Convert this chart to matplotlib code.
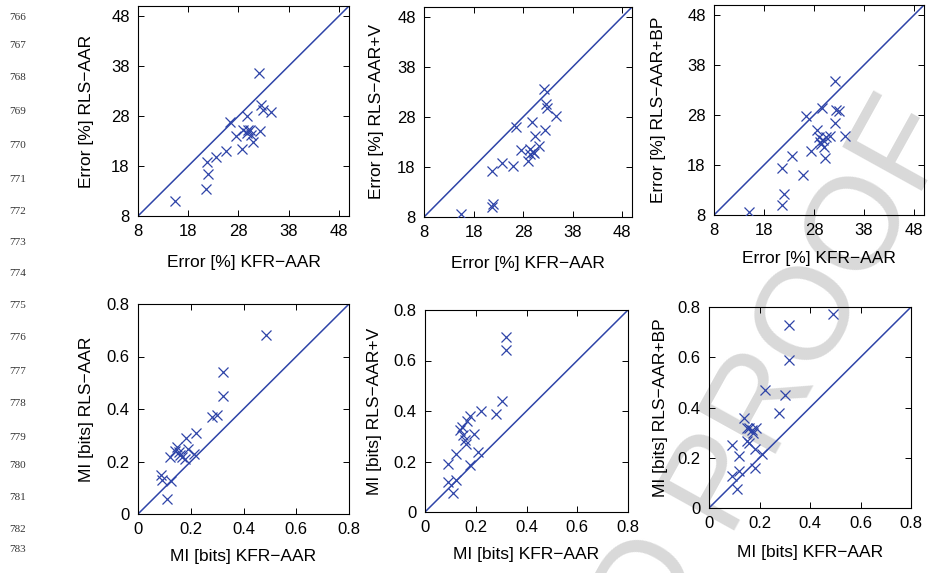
import matplotlib
matplotlib.use("Agg")
import matplotlib.pyplot as plt

plt.rcParams['font.family'] = ['Liberation Sans', 'DejaVu Sans']

# ---------------- data ----------------
# Error panels (KFR-AAR on x)
err1_x = [15.3, 21.6, 22.0, 21.8, 23.5, 25.6, 26.4, 27.5, 28.7, 28.9, 29.6, 29.7, 29.9, 30.3, 30.4, 30.9, 32.3, 32.1, 32.4, 32.9, 34.4]
err1_y = [10.9, 13.3, 16.4, 18.7, 19.7, 20.9, 26.7, 24.0, 21.3, 25.1, 27.9, 24.5, 25.1, 25.1, 24.2, 22.7, 24.9, 36.5, 30.2, 29.2, 28.7]

err2_x = [15.4, 21.7, 22.0, 21.7, 23.7, 25.9, 26.6, 27.6, 28.9, 29.4, 29.5, 29.9, 30.1, 30.3, 30.4, 31.2, 32.4, 32.3, 32.6, 32.9, 34.6]
err2_y = [8.5, 10.0, 10.5, 17.1, 18.7, 18.1, 26.0, 21.4, 19.1, 21.6, 20.6, 27.0, 21.0, 20.8, 24.2, 22.2, 25.3, 33.6, 30.5, 29.8, 28.2]

err3_x = [15.0, 21.5, 21.9, 21.5, 23.5, 25.7, 26.3, 27.4, 28.5, 28.9, 29.1, 29.4, 29.5, 29.7, 30.0, 30.2, 30.3, 31.1, 32.2, 32.2, 32.3, 32.9, 34.2]
err3_y = [8.6, 10.0, 12.2, 17.5, 19.9, 16.1, 27.8, 20.9, 25.1, 23.7, 22.7, 22.2, 29.5, 23.0, 21.7, 19.5, 23.7, 23.8, 34.9, 26.5, 29.0, 28.9, 23.9]

# MI panels (KFR-AAR on x)
mi1_x = [0.487, 0.323, 0.323, 0.300, 0.282, 0.219, 0.181, 0.211, 0.190, 0.146, 0.139, 0.156, 0.123, 0.165, 0.177, 0.158, 0.089, 0.092, 0.124, 0.111]
mi1_y = [0.681, 0.541, 0.450, 0.378, 0.369, 0.310, 0.289, 0.228, 0.248, 0.257, 0.240, 0.238, 0.219, 0.219, 0.210, 0.225, 0.149, 0.130, 0.126, 0.057]

mi2_x = [0.321, 0.321, 0.302, 0.279, 0.219, 0.177, 0.167, 0.144, 0.138, 0.148, 0.157, 0.161, 0.193, 0.210, 0.177, 0.122, 0.092, 0.092, 0.122, 0.109]
mi2_y = [0.692, 0.641, 0.440, 0.390, 0.399, 0.380, 0.361, 0.337, 0.324, 0.304, 0.287, 0.271, 0.308, 0.238, 0.188, 0.228, 0.189, 0.119, 0.126, 0.075]

mi3_x = [0.490, 0.318, 0.318, 0.301, 0.279, 0.222, 0.139, 0.152, 0.160, 0.169, 0.186, 0.173, 0.149, 0.160, 0.182, 0.209, 0.182, 0.090, 0.120, 0.120, 0.090, 0.110]
mi3_y = [0.771, 0.730, 0.589, 0.450, 0.377, 0.470, 0.360, 0.320, 0.317, 0.311, 0.317, 0.298, 0.267, 0.258, 0.235, 0.214, 0.159, 0.249, 0.205, 0.148, 0.126, 0.077]

err_ticks = [8, 18, 28, 38, 48]
err_lim = [8, 50]
mi_ticks = [0, 0.2, 0.4, 0.6, 0.8]
mi_tick_labels = ['0', '0.2', '0.4', '0.6', '0.8']
mi_lim = [0, 0.8]

err_xlabel = 'Error [%] KFR\u2212AAR'
mi_xlabel = 'MI [bits] KFR\u2212AAR'
err_ylabels = ['Error [%] RLS\u2212AAR', 'Error [%] RLS\u2212AAR+V', 'Error [%] RLS\u2212AAR+BP']
mi_ylabels = ['MI [bits] RLS\u2212AAR', 'MI [bits] RLS\u2212AAR+V', 'MI [bits] RLS\u2212AAR+BP']

line_numbers = list(range(766, 784))
line_number_y = [18, 46, 77, 111, 146, 179, 212, 243, 274, 306, 337, 371, 403, 437, 465, 497, 530, 550]

watermark_head = 'UNCORRECTED '
watermark_tail = 'PROOF'

# ---------------- layout ----------------
W, H = 931, 573
fig = plt.figure(figsize=(W / 100, H / 100), dpi=100)

BLUE = '#2e44a8'

panels = [
    dict(box=(138, 349, 6, 216), x=err1_x, y=err1_y, kind='err', ylabel=err_ylabels[0], yoff=52, xoff=46),
    dict(box=(424, 632, 7, 217), x=err2_x, y=err2_y, kind='err', ylabel=err_ylabels[1], yoff=47, xoff=47),
    dict(box=(714, 924, 5, 215), x=err3_x, y=err3_y, kind='err', ylabel=err_ylabels[2], yoff=55, xoff=44),
    dict(box=(138, 349, 304, 514), x=mi1_x, y=mi1_y, kind='mi', ylabel=mi_ylabels[0], yoff=52, xoff=43),
    dict(box=(425, 628, 310, 512), x=mi2_x, y=mi2_y, kind='mi', ylabel=mi_ylabels[1], yoff=50, xoff=43),
    dict(box=(709, 911, 307, 508), x=mi3_x, y=mi3_y, kind='mi', ylabel=mi_ylabels[2], yoff=48, xoff=45),
]

for p in panels:
    x0, x1, y0, y1 = p['box']
    wpx, hpx = x1 - x0, y1 - y0
    ax = fig.add_axes([x0 / W, 1 - y1 / H, wpx / W, hpx / H])
    ax.set_facecolor('none')
    if p['kind'] == 'err':
        lim = err_lim
        ax.set_xticks(err_ticks)
        ax.set_yticks(err_ticks)
        xl = err_xlabel
    else:
        lim = mi_lim
        ax.set_xticks(mi_ticks)
        ax.set_yticks(mi_ticks)
        ax.set_xticklabels(mi_tick_labels)
        ax.set_yticklabels(mi_tick_labels)
        xl = mi_xlabel
    ax.plot(lim, lim, color=BLUE, lw=1.1, zorder=2)
    ax.plot(p['x'], p['y'], linestyle='none', marker='x', color=BLUE,
            markersize=6.5, markeredgewidth=0.9, zorder=3)
    ax.set_xlim(lim)
    ax.set_ylim(lim)
    ax.tick_params(direction='in', length=4, width=0.7, top=True, right=True,
                   labelsize=12, pad=6, colors='black')
    for s in ax.spines.values():
        s.set_linewidth(0.8)
        s.set_color('black')
    ax.set_xlabel(xl, fontsize=12.5, va='center')
    ax.xaxis.set_label_coords(0.5, -p['xoff'] / hpx)
    ax.set_ylabel(p['ylabel'], fontsize=12.5, va='center')
    ax.yaxis.set_label_coords(-p['yoff'] / wpx, 0.5)

# line numbers of the proof page
for n, yy in zip(line_numbers, line_number_y):
    fig.text(18 / W, 1 - yy / H, str(n), ha='center', va='center',
             fontsize=8, family=['Liberation Serif', 'DejaVu Serif'], color='#333333')

# watermark (anchored at the baseline start of "PROOF")
wm_kw = dict(rotation=61, rotation_mode='anchor', va='baseline', fontsize=95,
             color='#d9d9d9', zorder=-1, family=['Liberation Sans', 'DejaVu Sans'])
fig.text(723 / W, 1 - 531 / H, watermark_tail, ha='left', **wm_kw)
fig.text(723 / W, 1 - 531 / H, watermark_head, ha='right', **wm_kw)

fig.savefig('out.png', dpi=100)
